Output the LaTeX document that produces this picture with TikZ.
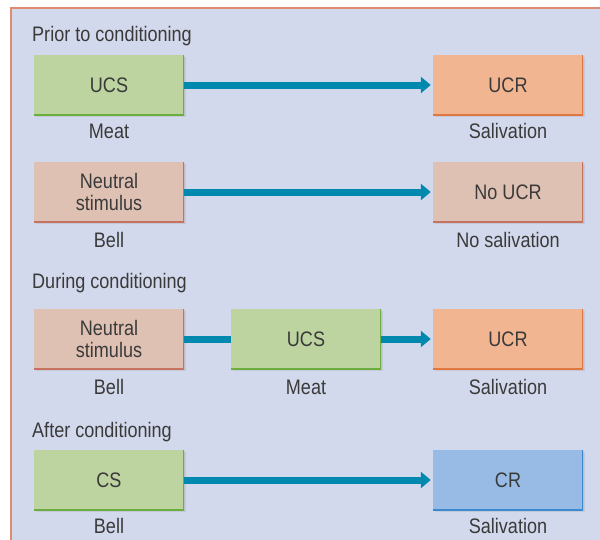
\documentclass[tikz,border=0pt]{standalone}
\usepackage{fontspec}
\setmainfont{Liberation Sans}[FakeStretch=0.86]
\usepackage{tikz}
\usetikzlibrary{arrows.meta,shadows}
\definecolor{panelbg}{HTML}{D3D9EC}
\definecolor{panelrim}{HTML}{E08A72}
\definecolor{inkgray}{HTML}{3A3A3A}
\definecolor{flowteal}{HTML}{0088AE}
\definecolor{ucsfill}{HTML}{BDD3A0}
\definecolor{ucsrim}{HTML}{6AAE3E}
\definecolor{ucrfill}{HTML}{F2B592}
\definecolor{ucrrim}{HTML}{E0773F}
\definecolor{neufill}{HTML}{DFC1B3}
\definecolor{neurim}{HTML}{C5735F}
\definecolor{crfill}{HTML}{97BBE4}
\definecolor{crrim}{HTML}{3A8AD2}
\tikzset{
  stagebox/.style 2 args={fill=#1, minimum width=150pt, minimum height=60pt,
    inner sep=0pt, align=center, text=inkgray,
    drop shadow={opacity=.18, shadow xshift=2pt, shadow yshift=-2pt},
    path picture={\draw[#2, line width=3pt]
      (path picture bounding box.north east) -- (path picture bounding box.south east)
      -- (path picture bounding box.south west);}},
  caption/.style={text=inkgray, inner sep=0pt},
  heading/.style={text=inkgray, inner sep=0pt, anchor=west},
  flow/.style={draw=flowteal, line width=7pt},
  flowto/.style={flow, -{Triangle[length=10pt,width=16pt]}, shorten >=2pt}
}
\begin{document}
\begin{tikzpicture}[x=1pt,y=-1pt,font=\fontsize{21}{22}\selectfont]
\useasboundingbox (0,0) rectangle (600,539);
\fill[white] (0,0) rectangle (600,539);
\draw[fill=panelbg, draw=panelrim, line width=2pt] (11,8) rectangle (612,552);

% prior to conditioning
\node[heading] (h1) at (32,36) {Prior to conditioning};
\node[stagebox={ucsfill}{ucsrim}] (ucs1) at (109,85) {UCS};
\node[stagebox={ucrfill}{ucrrim}] (ucr1) at (508,85) {UCR};
\node[caption] (meat1) at (109,131) {Meat};
\node[caption] (sal1) at (508,131) {Salivation};
\draw[flowto] (ucs1) -- (ucr1);

\node[stagebox={neufill}{neurim}] (neu2) at (109,192) {Neutral\\stimulus};
\node[stagebox={neufill}{neurim}] (noucr2) at (508,192) {No UCR};
\node[caption] (bell2) at (109,240) {Bell};
\node[caption] (nosal2) at (508,240) {No salivation};
\draw[flowto] (neu2) -- (noucr2);

% during conditioning
\node[heading] (h2) at (32,283) {During conditioning};
\node[stagebox={neufill}{neurim}] (neu3) at (109,339) {Neutral\\stimulus};
\node[stagebox={ucsfill}{ucsrim}] (ucs3) at (306,339) {UCS};
\node[stagebox={ucrfill}{ucrrim}] (ucr3) at (508,339) {UCR};
\node[caption] (bell3) at (109,387) {Bell};
\node[caption] (meat3) at (306,387) {Meat};
\node[caption] (sal3) at (508,387) {Salivation};
\draw[flow] (neu3) -- (ucs3);
\draw[flowto] (ucs3) -- (ucr3);

% after conditioning
\node[heading] (h3) at (32,432) {After conditioning};
\node[stagebox={ucsfill}{ucsrim}] (cs4) at (109,480) {CS};
\node[stagebox={crfill}{crrim}] (cr4) at (508,480) {CR};
\node[caption] (bell4) at (109,526) {Bell};
\node[caption] (sal4) at (508,526) {Salivation};
\draw[flowto] (cs4) -- (cr4);
\end{tikzpicture}
\end{document}
